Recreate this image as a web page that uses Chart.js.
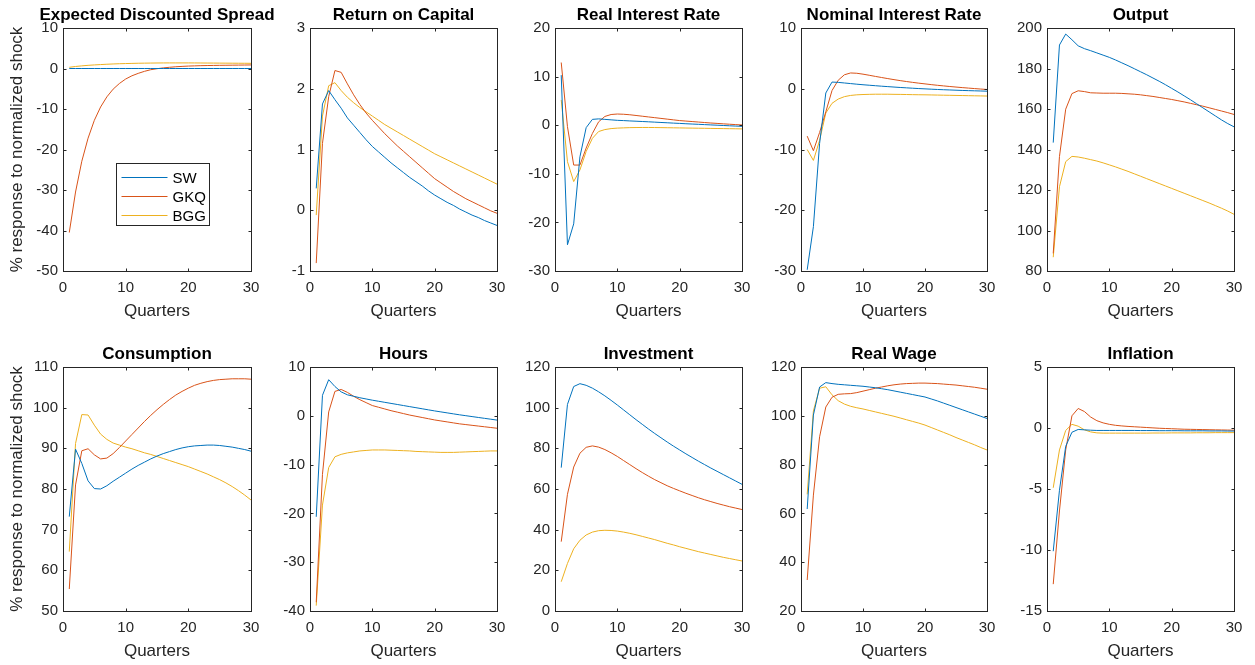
<!DOCTYPE html>
<html>
<head>
<meta charset="utf-8">
<script src="https://cdn.jsdelivr.net/npm/chart.js@4/dist/chart.umd.min.js"></script>
<style>
  body { margin: 0; background: #fff; width: 1255px; height: 665px; overflow: hidden; position: relative; }
  canvas { position: absolute; }
</style>
</head>
<body>
<script>
// x axis
const quarters = [1,2,3,4,5,6,7,8,9,10,11,12,13,14,15,16,17,18,19,20,21,22,23,24,25,26,27,28,29,30];
const models = ['SW', 'GKQ', 'BGG'];

// Expected Discounted Spread
const spreadSW  = [0,0,0,0,0,0,0,0,0,0,0,0,0,0,0,0,0,0,0,0,0,0,0,0,0,0,0,0,0,0];
const spreadGKQ = [-40.5,-30.5,-22.9,-17.2,-12.8,-9.5,-7.0,-5.1,-3.7,-2.6,-1.8,-1.2,-0.7,-0.3,-0.05,0.15,0.3,0.43,0.52,0.6,0.65,0.7,0.73,0.76,0.78,0.8,0.82,0.84,0.86,0.88];
const spreadBGG = [0.3,0.5,0.65,0.78,0.88,0.97,1.05,1.12,1.18,1.22,1.26,1.3,1.32,1.34,1.36,1.37,1.38,1.38,1.38,1.38,1.37,1.36,1.35,1.34,1.33,1.32,1.31,1.3,1.29,1.28];

// Return on Capital
const capitalSW  = [0.36,1.75,1.97,1.82,1.68,1.52,1.4,1.28,1.16,1.05,0.96,0.87,0.78,0.7,0.62,0.54,0.47,0.4,0.32,0.25,0.19,0.13,0.08,0.02,-0.03,-0.08,-0.12,-0.17,-0.21,-0.25];
const capitalGKQ = [-0.87,1.1,1.87,2.3,2.27,2.08,1.9,1.74,1.6,1.48,1.37,1.26,1.16,1.06,0.97,0.88,0.79,0.7,0.61,0.52,0.45,0.38,0.31,0.25,0.19,0.14,0.09,0.04,-0.01,-0.05];
const capitalBGG = [-0.08,1.55,2.05,2.1,1.97,1.86,1.77,1.69,1.62,1.55,1.48,1.41,1.35,1.29,1.23,1.17,1.11,1.05,0.99,0.93,0.88,0.83,0.78,0.73,0.68,0.63,0.58,0.53,0.48,0.43];

// Real Interest Rate
const realSW  = [10.3,-24.6,-20.3,-6.5,-0.5,1.2,1.3,1.2,1.1,1.0,0.95,0.88,0.82,0.76,0.7,0.63,0.56,0.5,0.43,0.37,0.3,0.24,0.18,0.12,0.06,0.0,-0.06,-0.12,-0.18,-0.23];
const realGKQ = [12.9,-0.3,-8.2,-8.2,-4.7,-1.7,0.7,1.8,2.2,2.3,2.25,2.15,2.0,1.85,1.7,1.55,1.4,1.25,1.1,0.95,0.85,0.75,0.65,0.55,0.45,0.37,0.28,0.2,0.12,0.05];
const realBGG = [5.2,-7.5,-11.6,-9.2,-5.4,-2.7,-1.3,-0.9,-0.7,-0.6,-0.55,-0.5,-0.48,-0.47,-0.47,-0.48,-0.5,-0.52,-0.54,-0.56,-0.58,-0.6,-0.62,-0.64,-0.66,-0.68,-0.7,-0.72,-0.74,-0.76];

// Nominal Interest Rate
const nominalSW  = [-29.8,-22.7,-9.0,-0.7,1.1,1.05,0.95,0.85,0.75,0.66,0.58,0.5,0.42,0.35,0.28,0.21,0.15,0.09,0.03,-0.02,-0.07,-0.12,-0.16,-0.2,-0.24,-0.28,-0.31,-0.34,-0.37,-0.4];
const nominalGKQ = [-7.8,-10.2,-7.2,-3.8,-0.3,1.4,2.3,2.6,2.55,2.4,2.22,2.03,1.85,1.67,1.5,1.34,1.19,1.05,0.92,0.8,0.68,0.57,0.47,0.37,0.28,0.19,0.11,0.03,-0.05,-0.12];
const nominalBGG = [-10.0,-11.8,-8.5,-4.0,-2.4,-1.7,-1.3,-1.1,-1.0,-0.95,-0.92,-0.9,-0.9,-0.9,-0.92,-0.93,-0.95,-0.97,-0.99,-1.0,-1.02,-1.04,-1.06,-1.08,-1.1,-1.12,-1.14,-1.16,-1.18,-1.2];

// Output
const outputSW  = [143.4,191.6,197,194.2,191.2,189.8,188.8,187.7,186.6,185.5,184.2,182.8,181.4,179.9,178.4,176.9,175.3,173.7,172.0,170.2,168.4,166.5,164.6,162.6,160.6,158.6,156.6,154.6,152.8,151.2];
const outputGKQ = [88.7,136.5,159.9,167.6,169.0,168.6,168.0,167.9,167.8,167.8,167.8,167.7,167.5,167.3,167.0,166.6,166.2,165.7,165.2,164.7,164.1,163.5,162.8,162.1,161.4,160.6,159.8,159.0,158.2,157.3];
const outputBGG = [86.8,121.6,134,136.6,136.3,135.7,135.0,134.3,133.4,132.4,131.4,130.3,129.2,128.0,126.8,125.6,124.4,123.2,122.0,120.8,119.6,118.4,117.2,116.0,114.8,113.6,112.3,111.0,109.6,108];

// Consumption
const consSW  = [73.2,89.8,86.3,82.0,80.1,80.0,80.8,81.9,82.9,83.9,84.9,85.8,86.6,87.4,88.1,88.7,89.2,89.7,90.1,90.4,90.6,90.7,90.8,90.8,90.7,90.5,90.3,90.0,89.7,89.3];
const consGKQ = [55.4,81,89.4,89.9,88.4,87.4,87.6,88.7,90.2,91.8,93.4,95.0,96.6,98.1,99.5,100.8,102.0,103.1,104.0,104.8,105.5,106.0,106.4,106.7,106.9,107.0,107.1,107.1,107.1,107.0];
const consBGG = [64.6,91.2,98.3,98.2,95.7,93.5,92.2,91.3,90.8,90.3,89.9,89.4,88.9,88.5,88.0,87.5,87.0,86.5,86.0,85.5,84.9,84.3,83.7,83.0,82.3,81.5,80.6,79.6,78.5,77.3];

// Hours
const hoursSW  = [-20.7,4.2,7.4,6.0,4.9,4.3,4.0,3.7,3.45,3.2,2.98,2.76,2.54,2.32,2.1,1.88,1.66,1.44,1.22,1.0,0.8,0.6,0.4,0.2,0.02,-0.16,-0.34,-0.52,-0.7,-0.88];
const hoursGKQ = [-38.2,-12,0.8,5.0,5.4,4.8,4.0,3.3,2.7,2.1,1.75,1.4,1.05,0.75,0.45,0.15,-0.1,-0.35,-0.6,-0.85,-1.05,-1.25,-1.45,-1.65,-1.8,-1.95,-2.1,-2.25,-2.4,-2.55];
const hoursBGG = [-38.9,-18.3,-10.6,-8.4,-7.9,-7.6,-7.4,-7.2,-7.1,-7.0,-7.0,-7.0,-7.05,-7.1,-7.15,-7.2,-7.3,-7.35,-7.4,-7.45,-7.5,-7.5,-7.5,-7.45,-7.4,-7.35,-7.3,-7.25,-7.2,-7.2];

// Investment
const invSW  = [70.5,101.6,110.4,111.8,111.0,109.6,107.8,105.8,103.6,101.3,98.9,96.5,94.1,91.8,89.5,87.3,85.2,83.1,81.1,79.2,77.3,75.5,73.7,72.0,70.3,68.7,67.1,65.5,63.9,62.3];
const invGKQ = [34.1,57.4,70.8,77.6,80.5,81.2,80.6,79.4,77.8,76.0,74.0,72.0,70.0,68.1,66.3,64.6,63.1,61.6,60.3,59.1,57.9,56.8,55.7,54.7,53.8,52.9,52.1,51.3,50.6,49.9];
const invBGG = [14.4,23.4,30.6,34.8,37.4,38.8,39.5,39.7,39.6,39.3,38.8,38.2,37.5,36.7,35.9,35.1,34.2,33.3,32.5,31.6,30.8,30.0,29.2,28.5,27.8,27.1,26.4,25.8,25.2,24.6];

// Real Wage
const wageSW  = [61.8,100.3,111.8,113.6,113.2,112.9,112.7,112.5,112.3,112.1,111.8,111.5,111.1,110.7,110.2,109.7,109.2,108.7,108.2,107.7,106.9,106.1,105.2,104.3,103.4,102.5,101.6,100.7,99.8,98.9];
const wageGKQ = [32.7,67.5,91.4,103.6,107.6,108.8,109.0,109.1,109.5,110.1,110.7,111.3,111.8,112.3,112.7,113.0,113.2,113.3,113.4,113.4,113.3,113.2,113.0,112.8,112.6,112.3,112.0,111.7,111.3,110.9];
const wageBGG = [67.8,102,111.3,111.9,108.6,106.2,104.8,103.9,103.3,102.8,102.2,101.6,101.0,100.4,99.8,99.1,98.4,97.7,97.0,96.2,95.2,94.2,93.2,92.2,91.1,90.1,89.1,88.1,87.0,86.0];

// Inflation
const inflSW  = [-10.1,-5.1,-1.5,-0.35,-0.12,-0.15,-0.18,-0.2,-0.2,-0.2,-0.2,-0.2,-0.2,-0.2,-0.21,-0.21,-0.21,-0.22,-0.22,-0.22,-0.22,-0.23,-0.23,-0.23,-0.23,-0.24,-0.24,-0.24,-0.25,-0.25];
const inflGKQ = [-12.8,-6.8,-1.8,1.0,1.6,1.35,0.9,0.6,0.42,0.3,0.22,0.17,0.13,0.1,0.07,0.04,0.01,-0.02,-0.04,-0.06,-0.08,-0.1,-0.11,-0.12,-0.13,-0.14,-0.15,-0.16,-0.17,-0.18];
const inflBGG = [-4.9,-1.8,-0.2,0.3,0.15,-0.15,-0.32,-0.4,-0.42,-0.42,-0.42,-0.42,-0.42,-0.42,-0.42,-0.42,-0.41,-0.41,-0.41,-0.4,-0.4,-0.4,-0.4,-0.39,-0.39,-0.39,-0.38,-0.38,-0.38,-0.38];

const panels = [
  { title: 'Expected Discounted Spread', series: [spreadSW, spreadGKQ, spreadBGG], min: -50, max: 10, step: 10, legend: true },
  { title: 'Return on Capital', series: [capitalSW, capitalGKQ, capitalBGG], min: -1, max: 3, step: 1 },
  { title: 'Real Interest Rate', series: [realSW, realGKQ, realBGG], min: -30, max: 20, step: 10 },
  { title: 'Nominal Interest Rate', series: [nominalSW, nominalGKQ, nominalBGG], min: -30, max: 10, step: 10 },
  { title: 'Output', series: [outputSW, outputGKQ, outputBGG], min: 80, max: 200, step: 20 },
  { title: 'Consumption', series: [consSW, consGKQ, consBGG], min: 50, max: 110, step: 10 },
  { title: 'Hours', series: [hoursSW, hoursGKQ, hoursBGG], min: -40, max: 10, step: 10 },
  { title: 'Investment', series: [invSW, invGKQ, invBGG], min: 0, max: 120, step: 20 },
  { title: 'Real Wage', series: [wageSW, wageGKQ, wageBGG], min: 20, max: 120, step: 20 },
  { title: 'Inflation', series: [inflSW, inflGKQ, inflBGG], min: -15, max: 5, step: 5 }
];

const colors = ['#0072BD', '#D95319', '#EDB120'];
const FONT = '"Liberation Sans", Arial, Helvetica, sans-serif';
const INK = '#262626';

// plot box edges on the page
const cols = [[63, 251], [310, 497], [555, 742], [801, 987], [1047, 1234]];
const rows = [[28, 271], [367, 611]];

// matlab style box with inward ticks, the title, and the little legend
const frame = {
  id: 'frame',
  afterDatasetsDraw(chart, args, opts) {
    const { ctx, chartArea: a, scales: { x, y } } = chart;
    const l = Math.round(a.left) + 0.5, r = Math.round(a.right) + 0.5;
    const t = Math.round(a.top) + 0.5, b = Math.round(a.bottom) + 0.5;
    const tl = 3;
    ctx.save();
    ctx.strokeStyle = INK;
    ctx.lineWidth = 1;
    ctx.beginPath();
    x.ticks.forEach(tk => {
      const px = Math.round(x.getPixelForValue(tk.value)) + 0.5;
      ctx.moveTo(px, b); ctx.lineTo(px, b - tl);
      ctx.moveTo(px, t); ctx.lineTo(px, t + tl);
    });
    y.ticks.forEach(tk => {
      const py = Math.round(y.getPixelForValue(tk.value)) + 0.5;
      ctx.moveTo(l, py); ctx.lineTo(l + tl, py);
      ctx.moveTo(r, py); ctx.lineTo(r - tl, py);
    });
    ctx.stroke();
    ctx.strokeRect(l, t, r - l, b - t);

    // title, allowed to run wider than the box like matlab does
    ctx.fillStyle = '#000';
    ctx.font = 'bold 17px ' + FONT;
    ctx.textAlign = 'center';
    ctx.textBaseline = 'middle';
    ctx.fillText(opts.title, (a.left + a.right) / 2, a.top - 12.5);

    if (opts.legend) {
      const lx = l + 53, ly = t + 135, lw = 93, lh = 62;
      ctx.fillStyle = '#fff';
      ctx.fillRect(lx, ly, lw, lh);
      ctx.strokeStyle = INK;
      ctx.strokeRect(lx, ly, lw, lh);
      ctx.font = '15px ' + FONT;
      ctx.textAlign = 'left';
      chart.data.datasets.forEach((ds, i) => {
        const yy = Math.round(ly + 13 + i * 19.3) + 0.5;
        ctx.strokeStyle = ds.borderColor;
        ctx.beginPath();
        ctx.moveTo(lx + 5, yy); ctx.lineTo(lx + 51, yy);
        ctx.stroke();
        ctx.fillStyle = '#000';
        ctx.fillText(ds.label, lx + 56, yy + 1);
      });
    }
    ctx.restore();
  }
};

panels.forEach((p, i) => {
  const c = i % 5, r = Math.floor(i / 5);
  const [L, R] = cols[c], [T, B] = rows[r];
  const padL = c === 0 ? 63 : 52, padR = 24, padT = 28, padB = 54;
  const cv = document.createElement('canvas');
  cv.width = R - L + padL + padR;
  cv.height = B - T + padT + padB;
  cv.style.left = (L - padL) + 'px';
  cv.style.top = (T - padT) + 'px';
  document.body.appendChild(cv);

  new Chart(cv, {
    type: 'line',
    data: {
      datasets: p.series.map((s, k) => ({
        label: models[k],
        data: s.map((v, j) => ({ x: quarters[j], y: v })),
        borderColor: colors[k],
        borderWidth: 1,
        pointRadius: 0,
        tension: 0,
        fill: false
      }))
    },
    options: {
      responsive: false,
      animation: false,
      devicePixelRatio: 1,
      layout: { padding: { top: padT, right: padR, left: 0, bottom: 0 } },
      plugins: {
        legend: { display: false },
        tooltip: { enabled: false },
        title: { display: false },
        frame: { title: p.title, legend: !!p.legend }
      },
      scales: {
        x: {
          type: 'linear',
          min: 0, max: 30,
          grid: { display: false, drawTicks: false },
          border: { display: false },
          ticks: { stepSize: 10, color: INK, padding: 8, font: { family: FONT, size: 15 } },
          title: { display: true, text: 'Quarters', color: INK, font: { family: FONT, size: 17 }, padding: { top: 0, bottom: 3.3 } },
          afterFit: s => { s.height = padB; }
        },
        y: {
          min: p.min, max: p.max,
          grid: { display: false, drawTicks: false },
          border: { display: false },
          ticks: { stepSize: p.step, color: INK, padding: 5, font: { family: FONT, size: 15 } },
          title: { display: c === 0, text: '% response to normalized shock', color: INK, font: { family: FONT, size: 17 }, padding: { top: 7.3, bottom: 0 } },
          afterFit: s => { s.width = padL; }
        }
      }
    },
    plugins: [frame]
  });
});
</script>
</body>
</html>
